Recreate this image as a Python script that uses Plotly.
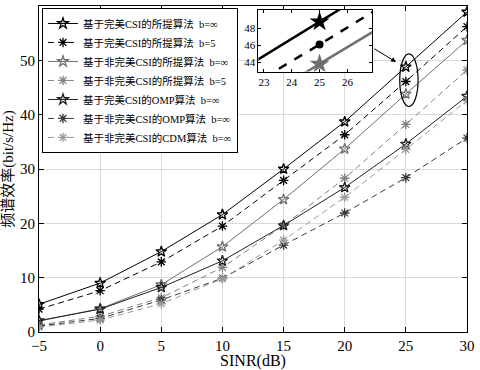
import plotly.graph_objects as go

sinr = [-5, 0, 5, 10, 15, 20, 25, 30]
perfect_prop_inf = [5.1, 9.0, 14.8, 21.6, 30.0, 38.7, 48.8, 58.9]
perfect_prop_b5 = [4.2, 7.6, 12.9, 19.5, 27.9, 36.3, 46.1, 56.2]
imperfect_prop_inf = [2.0, 4.3, 8.7, 15.7, 24.4, 33.7, 43.8, 53.7]
imperfect_prop_b5 = [1.3, 2.9, 6.3, 11.9, 19.6, 28.3, 38.2, 48.2]
perfect_omp_inf = [2.1, 4.2, 8.2, 13.1, 19.6, 26.6, 34.6, 43.4]
imperfect_omp_inf = [1.1, 2.5, 5.9, 9.9, 16.0, 21.9, 28.4, 35.7]
imperfect_cdm_inf = [0.9, 2.2, 5.2, 9.8, 16.9, 24.8, 33.6, 42.6]

names = [
    "基于完美CSI的所提算法  b=∞",
    "基于完美CSI的所提算法  b=5",
    "基于非完美CSI的所提算法  b=∞",
    "基于非完美CSI的所提算法  b=5",
    "基于完美CSI的OMP算法  b=∞",
    "基于非完美CSI的OMP算法  b=∞",
    "基于非完美CSI的CDM算法  b=∞",
]
series = [perfect_prop_inf, perfect_prop_b5, imperfect_prop_inf, imperfect_prop_b5,
          perfect_omp_inf, imperfect_omp_inf, imperfect_cdm_inf]
colors = ["#000000", "#000000", "#707070", "#808080", "#202020", "#383838", "#9a9a9a"]
dashes = ["solid", "6px,4px", "solid", "6px,4px", "solid", "6px,4px", "6px,4px"]
symbols = ["star-open", "asterisk-open", "star-open", "asterisk-open", "star-open",
           "asterisk-open", "asterisk-open"]

FONT = "Times New Roman, Liberation Serif, Noto Sans CJK SC, serif"

fig = go.Figure()
for nm, ys, c, d, s in zip(names, series, colors, dashes, symbols):
    fig.add_trace(go.Scatter(
        x=sinr, y=ys, name=nm, mode="lines+markers",
        line=dict(color=c, width=1, dash=d),
        marker=dict(symbol=s, size=8, color=c,
                    line=dict(color=c, width=1.3)),
        xaxis="x", yaxis="y"))

# inset (zoom of first three series)
inset_cfg = [
    (perfect_prop_inf, "#000000", "solid", "star", 15),
    (perfect_prop_b5, "#000000", "dash", "circle", 8),
    (imperfect_prop_inf, "#707070", "solid", "star", 15),
]
for ys, c, d, s, sz in inset_cfg:
    fig.add_trace(go.Scatter(
        x=sinr, y=ys, mode="lines+markers", showlegend=False,
        line=dict(color=c, width=2.5, dash=d),
        marker=dict(symbol=s, size=sz, color=c),
        xaxis="x2", yaxis="y2", cliponaxis=True))

fig.add_shape(type="circle", xref="x", yref="y", x0=24.5, x1=26.0, y0=41.5, y1=51.2,
              line=dict(color="black", width=1.2), layer="above")
fig.add_annotation(x=24.2, y=49.7, ax=22.3, ay=52.3, xref="x", yref="y",
                   axref="x", ayref="y", text="", showarrow=True,
                   arrowhead=2, arrowsize=1, arrowwidth=1, arrowcolor="black")

fig.update_layout(
    width=480, height=370,
    margin=dict(l=39, r=6, t=5, b=37),
    paper_bgcolor="white", plot_bgcolor="white",
    font=dict(family=FONT, color="black", size=13),
    showlegend=True,
    legend=dict(x=0.007, y=0.994, xanchor="left", yanchor="top",
                bgcolor="white", bordercolor="black", borderwidth=1,
                font=dict(family=FONT, size=10.5), tracegroupgap=0,
                itemwidth=30),
    xaxis=dict(domain=[0, 1], range=[-5, 30], dtick=5, tick0=-5,
               showline=True, linecolor="black", linewidth=1, mirror="ticks",
               ticks="inside", ticklen=5, tickcolor="black",
               showgrid=True, gridcolor="#d9d9d9", gridwidth=1, zeroline=False,
               tickfont=dict(size=15), ticklabeloverflow="allow",
               title=dict(text="SINR(dB)", font=dict(size=16), standoff=0)),
    yaxis=dict(domain=[0, 1], range=[0, 60], dtick=10,
               showline=True, linecolor="black", linewidth=1, mirror="ticks",
               ticks="inside", ticklen=5, tickcolor="black",
               showgrid=True, gridcolor="#d9d9d9", gridwidth=1, zeroline=False,
               tickfont=dict(size=15),
               title=dict(text="频谱效率(bit/s/Hz)", font=dict(size=15), standoff=2)),
    xaxis2=dict(domain=[0.5126, 0.779], anchor="y2", range=[22.8, 26.9],
                tickvals=[23, 24, 25, 26], showline=True, linecolor="black",
                linewidth=1, mirror="ticks", ticks="inside", ticklen=3,
                tickcolor="black", showgrid=False, zeroline=False,
                tickfont=dict(size=11)),
    yaxis2=dict(domain=[0.799, 0.988], anchor="x2", range=[42.9, 50.2],
                tickvals=[44, 46, 48], showline=True, linecolor="black",
                linewidth=1, mirror="ticks", ticks="inside", ticklen=3,
                tickcolor="black", showgrid=False, zeroline=False,
                tickfont=dict(size=11)),
)

fig.write_html("out.html", config={"displayModeBar": False},
               post_script="document.body.style.margin='0';document.body.style.overflow='hidden';")
